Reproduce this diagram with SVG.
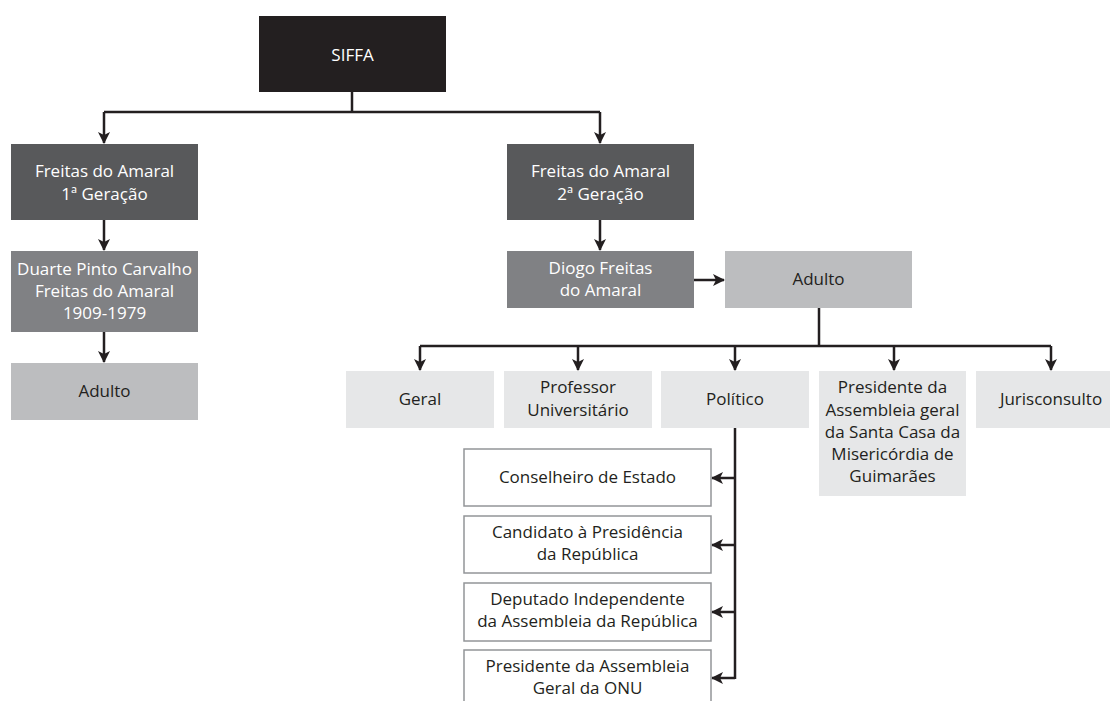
<svg xmlns="http://www.w3.org/2000/svg" width="1110" height="701" viewBox="0 0 1110 701">
<style>
text{font-family:"Open Sans","Liberation Sans",sans-serif;font-size:17px;text-anchor:middle;fill:#231f20}
.w{fill:#ffffff}
.k{fill:#231f20}
.d{fill:#58595b}
.m{fill:#808184}
.g{fill:#bcbdbf}
.l{fill:#e6e7e8}
.o{fill:#ffffff;stroke:#939598;stroke-width:1.5}
.c{fill:none;stroke:#231f20;stroke-width:2.5}
</style>
<defs>
<marker id="ah" viewBox="0 0 12 12" refX="11" refY="6" markerWidth="12" markerHeight="12" markerUnits="userSpaceOnUse" orient="auto">
<path d="M0,0 L12,6 L0,12 L3,6 Z" fill="#231f20"/>
</marker>
</defs>
<g id="connectors">
<path class="c" d="M352,92 V112"/>
<path class="c" d="M104,112 H600"/>
<path class="c" d="M104,112 V143" marker-end="url(#ah)"/>
<path class="c" d="M600,112 V143" marker-end="url(#ah)"/>
<path class="c" d="M104,220 V250" marker-end="url(#ah)"/>
<path class="c" d="M104,332 V362" marker-end="url(#ah)"/>
<path class="c" d="M600,220 V250" marker-end="url(#ah)"/>
<path class="c" d="M694,280 H724" marker-end="url(#ah)"/>
<path class="c" d="M819,308 V346"/>
<path class="c" d="M420,346 H1051"/>
<path class="c" d="M420,346 V370" marker-end="url(#ah)"/>
<path class="c" d="M578,346 V370" marker-end="url(#ah)"/>
<path class="c" d="M735,346 V370" marker-end="url(#ah)"/>
<path class="c" d="M894,346 V370" marker-end="url(#ah)"/>
<path class="c" d="M1051,346 V370" marker-end="url(#ah)"/>
<path class="c" d="M735,428 V679"/>
<path class="c" d="M735,478 H712" marker-end="url(#ah)"/>
<path class="c" d="M735,545 H712" marker-end="url(#ah)"/>
<path class="c" d="M735,612 H712" marker-end="url(#ah)"/>
<path class="c" d="M735,678 H712" marker-end="url(#ah)"/>
</g>
<g id="siffa"><rect class="k" x="259" y="16" width="187" height="76"/><text class="w" x="352.5" y="61">SIFFA</text></g>
<g id="gen1"><rect class="d" x="11" y="144" width="187" height="76"/><text class="w" x="104.5" y="177">Freitas do Amaral</text><text class="w" x="104.5" y="200">1ª Geração</text></g>
<g id="gen2"><rect class="d" x="507" y="144" width="187" height="76"/><text class="w" x="600.5" y="177">Freitas do Amaral</text><text class="w" x="600.5" y="200">2ª Geração</text></g>
<g id="duarte"><rect class="m" x="11" y="251" width="187" height="81"/><text class="w" x="104.5" y="275">Duarte Pinto Carvalho</text><text class="w" x="104.5" y="297">Freitas do Amaral</text><text class="w" x="104.5" y="319">1909-1979</text></g>
<g id="adulto1"><rect class="g" x="11" y="363" width="187" height="57"/><text x="104.5" y="397">Adulto</text></g>
<g id="diogo"><rect class="m" x="507" y="251" width="187" height="57"/><text class="w" x="600.5" y="274">Diogo Freitas</text><text class="w" x="600.5" y="296">do Amaral</text></g>
<g id="adulto2"><rect class="g" x="725" y="251" width="187" height="57"/><text x="818.5" y="285">Adulto</text></g>
<g id="geral"><rect class="l" x="346" y="371" width="148" height="57"/><text x="420" y="405">Geral</text></g>
<g id="professor"><rect class="l" x="504" y="371" width="148" height="57"/><text x="578" y="393">Professor</text><text x="578" y="416">Universitário</text></g>
<g id="politico"><rect class="l" x="661" y="371" width="148" height="57"/><text x="735" y="405">Político</text></g>
<g id="presidente-sc"><rect class="l" x="819" y="371" width="147" height="125"/><text x="892.5" y="393">Presidente da</text><text x="892.5" y="415.5">Assembleia geral</text><text x="892.5" y="438">da Santa Casa da</text><text x="892.5" y="460">Misericórdia de</text><text x="892.5" y="482">Guimarães</text></g>
<g id="jurisconsulto"><rect class="l" x="976" y="371" width="134" height="57"/><text x="1051" y="405">Jurisconsulto</text></g>
<g id="conselheiro"><rect class="o" x="464" y="449" width="247" height="57"/><text x="587.5" y="483">Conselheiro de Estado</text></g>
<g id="candidato"><rect class="o" x="464" y="516" width="247" height="57"/><text x="587.5" y="538">Candidato à Presidência</text><text x="587.5" y="560">da República</text></g>
<g id="deputado"><rect class="o" x="464" y="583" width="247" height="58"/><text x="587.5" y="605">Deputado Independente</text><text x="587.5" y="627">da Assembleia da República</text></g>
<g id="presidente-onu"><rect class="o" x="464" y="650" width="247" height="60"/><text x="587.5" y="672">Presidente da Assembleia</text><text x="587.5" y="694">Geral da ONU</text></g>
</svg>
